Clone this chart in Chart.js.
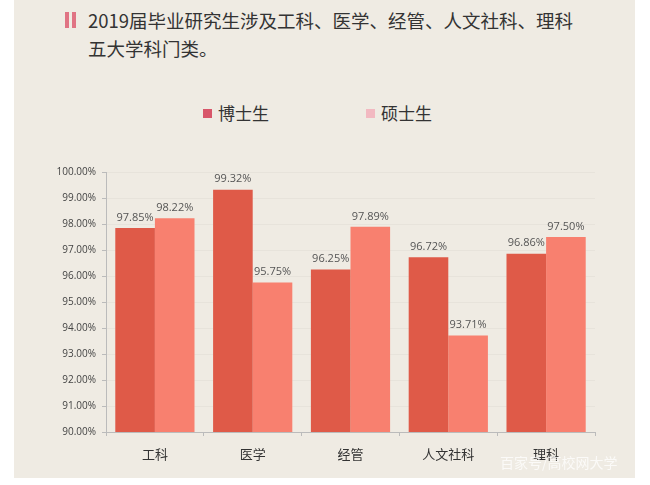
<!DOCTYPE html>
<html>
<head>
<meta charset="utf-8">
<script src="https://cdn.jsdelivr.net/npm/chart.js@4"></script>
<style>
  body { margin: 0; background: #fff; font-family: "Noto Sans CJK SC", sans-serif; }
  #card { position: absolute; left: 14px; top: 0; width: 621px; height: 478px; background: #efebe3; }
  #wrap { position: absolute; left: 0; top: 0; width: 650px; height: 485px; }
  .bar { position: absolute; top: 12px; width: 4px; height: 16px; background: #e07484; }
  #titulo { position: absolute; left: 88px; top: 6px; font-size: 18.5px; line-height: 28px; color: #333; }
  .leyenda { position: absolute; top: 101px; font-size: 17px; color: #333; line-height: 24px; }
  .leyenda span { display: inline-block; width: 9px; height: 9px; margin-right: 6px; vertical-align: 2px; }
  #marca { position: absolute; left: 500px; top: 452px; font-size: 14px; color: rgba(255,255,255,0.75); }
</style>
</head>
<body>
<div id="card"></div>
<div class="bar" style="left:65px"></div>
<div class="bar" style="left:72px"></div>
<div id="titulo">2019届毕业研究生涉及工科、医学、经管、人文社科、理科<br>五大学科门类。</div>
<div class="leyenda" style="left:203px"><span style="background:#d8566a"></span>博士生</div>
<div class="leyenda" style="left:366px"><span style="background:#f2b9c1"></span>硕士生</div>
<div id="wrap"><canvas id="grafico" width="650" height="485"></canvas></div>
<div id="marca">百家号/高校网大学</div>
<script>
// datos
const categorias = ['工科', '医学', '经管', '人文社科', '理科'];
const boshi = [97.85, 99.32, 96.25, 96.72, 96.86];
const shuoshi = [98.22, 95.75, 97.89, 93.71, 97.50];

// etiquetas encima de las barras
const etiquetas = {
    id: 'etiquetas',
    afterDatasetsDraw(chart) {
        const ctx = chart.ctx;
        ctx.save();
        ctx.font = '11px "Open Sans", sans-serif';
        ctx.fillStyle = '#555';
        ctx.textAlign = 'center';
        ctx.textBaseline = 'bottom';
        chart.data.datasets.forEach((ds, i) => {
            chart.getDatasetMeta(i).data.forEach((bar, j) => {
                ctx.fillText(ds.data[j].toFixed(2) + '%', bar.x, bar.y - 5);
            });
        });
        ctx.restore();
    }
};

new Chart(document.getElementById('grafico'), {
    type: 'bar',
    data: {
        labels: categorias,
        datasets: [
            { label: '博士生', data: boshi, backgroundColor: '#df5a48' },
            { label: '硕士生', data: shuoshi, backgroundColor: '#f8806f' }
        ]
    },
    options: {
        responsive: false,
        animation: false,
        layout: { padding: { top: 172, left: 0, right: 55, bottom: 13 } },
        datasets: { bar: { categoryPercentage: 0.81, barPercentage: 1.0 } },
        plugins: { legend: { display: false }, tooltip: { enabled: false } },
        scales: {
            x: {
                afterFit: s => { s.height = 40; },
                grid: { offset: true, drawOnChartArea: false, tickLength: 4, color: '#bbb' },
                border: { color: '#bbb' },
                ticks: { padding: 10, color: '#333', font: { size: 13, family: '"Noto Sans CJK SC"' } }
            },
            y: {
                min: 90,
                max: 100,
                afterFit: s => { s.width = 106; },
                grid: { color: 'rgba(0,0,0,0.03)', tickLength: 4, tickColor: '#bbb' },
                border: { color: '#bbb' },
                ticks: {
                    stepSize: 1,
                    padding: 6,
                    color: '#444',
                    font: { size: 10, family: '"Open Sans"' },
                    callback: v => v.toFixed(2) + '%'
                }
            }
        }
    },
    plugins: [etiquetas]
});
</script>
</body>
</html>
